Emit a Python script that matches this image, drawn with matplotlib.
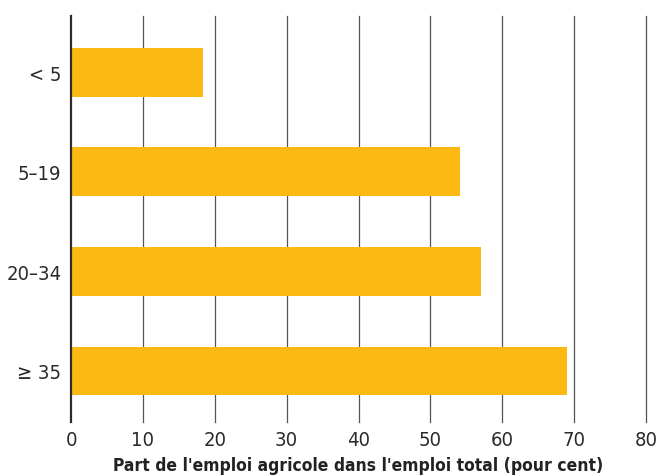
import matplotlib.pyplot as plt
import numpy as np

plt.rcParams['font.family'] = ['DejaVu Sans']
plt.rcParams['font.stretch'] = 'condensed'

# Farm size classes and share of agricultural employment (%)
categories = ['< 5', '5–19', '20–34', '≥ 35']
shares = [18.3, 54.1, 57.1, 69.0]
x_ticks = [0, 10, 20, 30, 40, 50, 60, 70, 80]

bar_color = '#FDB913'

fig = plt.figure(figsize=(6.57, 4.77), dpi=100)
ax = fig.add_axes([0.1081, 0.1138, 0.8752, 0.8506])

y = np.arange(len(categories))
ax.barh(y, shares, height=0.49, color=bar_color, zorder=2)

ax.set_xlim(0, 80)
ax.set_ylim(3.51, -0.566)
ax.set_xticks(x_ticks)
ax.set_yticks(y)
ax.set_yticklabels(categories)

# vertical gridlines only, last one at the right edge kept unclipped
for xv in x_ticks[1:]:
    ax.axvline(xv, color='#555555', linewidth=0.9, zorder=1, clip_on=False)

for side in ['top', 'right', 'bottom']:
    ax.spines[side].set_visible(False)
ax.spines['left'].set_linewidth(1.6)
ax.spines['left'].set_color('#2b2b2b')
ax.spines['left'].set_zorder(3)

ax.tick_params(axis='both', length=0, labelsize=14.5, colors='#2a2a2a')
ax.tick_params(axis='y', pad=7)
ax.tick_params(axis='x', pad=6)

xlab = ax.set_xlabel("Part de l'emploi agricole dans l'emploi total (pour cent)",
                     fontsize=13, fontweight='bold', color='#222222', labelpad=5)

# shrink the axis title so it spans about 490 px
fig.canvas.draw()
w = xlab.get_window_extent().width
if w > 490:
    xlab.set_fontsize(13 * 490 / w)

fig.savefig('out.png', dpi=100)
